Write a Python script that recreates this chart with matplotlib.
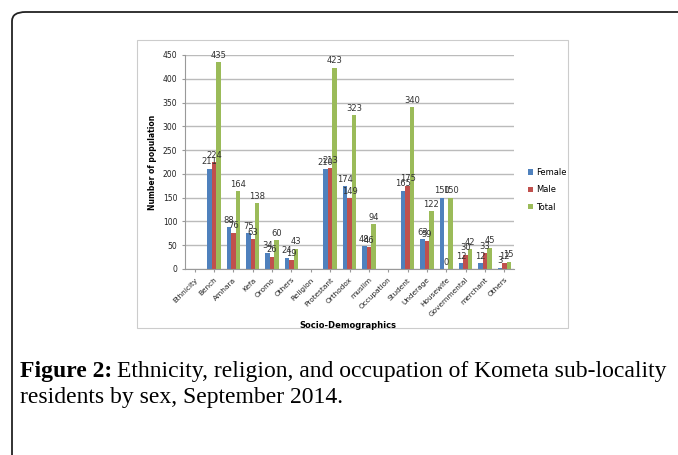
#!/usr/bin/env python3
# -*- coding: utf-8 -*-

import numpy as np
import matplotlib
matplotlib.use('Agg')
import matplotlib.pyplot as plt
from matplotlib.patches import FancyBboxPatch, Rectangle

nan = np.nan

categories = ['Ethnicity', 'Bench', 'Amhara', 'Kefa', 'Oromo', 'Others',
              'Religion', 'Protestant', 'Orthodox', 'muslim', 'Occupation',
              'Student', 'Underage', 'Housewife', 'Governmental', 'merchant',
              'Others']
female = [nan, 211, 88, 75, 34, 24, nan, 210, 174, 48, nan, 165, 63, 150, 12, 12, 3]
male = [nan, 224, 76, 63, 26, 19, nan, 213, 149, 46, nan, 175, 59, 0, 30, 33, 12]
total = [nan, 435, 164, 138, 60, 43, nan, 423, 323, 94, nan, 340, 122, 150, 42, 45, 15]

series = [('Female', female, '#4F81BD'),
          ('Male', male, '#C0504D'),
          ('Total', total, '#9BBB59')]

fig = plt.figure(figsize=(6.78, 4.55), dpi=100)
W, H = 678, 455


def box(x0, y0, x1, y1):
    # pixel box (top-left origin) -> figure fraction
    return [x0 / W, 1 - y1 / H, (x1 - x0) / W, (y1 - y0) / H]


# outer page frame with rounded corner
frame = FancyBboxPatch((12 / W, -0.2), 1.2, 1 - 12 / H + 0.2,
                       boxstyle='round,pad=0,rounding_size=0.02',
                       transform=fig.transFigure, fill=False,
                       edgecolor='#222222', linewidth=1.3)
fig.patches.append(frame)

# chart image box
fig.patches.append(Rectangle((137 / W, 1 - 328 / H), (568 - 137) / W, (328 - 40) / H,
                             transform=fig.transFigure, fill=False,
                             edgecolor='#CCCCCC', linewidth=0.8))

ax = fig.add_axes(box(185, 55, 514, 269))
x = np.arange(len(categories))
w = 0.23
for i, (name, vals, col) in enumerate(series):
    pos = x + (i - 1) * w
    bars = ax.bar(pos, vals, w, color=col, label=name, edgecolor='none')
    for p, v in zip(pos, vals):
        if np.isnan(v):
            continue
        ax.text(p, v + 5, '%d' % v, ha='center', va='bottom',
                fontsize=6, color='#333333')

ax.set_xlim(-0.5, len(categories) - 0.5)
ax.set_ylim(0, 450)
ax.set_yticks(range(0, 451, 50))
ax.yaxis.grid(True, color='#BBBBBB', linewidth=1)
ax.set_axisbelow(True)
for s in ['top', 'right']:
    ax.spines[s].set_visible(False)
ax.spines['left'].set_color('#999999')
ax.spines['bottom'].set_color('#999999')
ax.tick_params(axis='y', labelsize=5.5, length=2, colors='#999999', labelcolor='#222222')
ax.tick_params(axis='x', labelsize=5.3, length=2, colors='#999999', labelcolor='#222222')
ax.set_xticks(x)
ax.set_xticklabels(categories, rotation=45, ha='right', rotation_mode='anchor')
ax.set_ylabel('Number of population', fontsize=5.5, fontweight='bold')
fig.text(348 / W, 1 - 326 / H, 'Socio-Demographics', fontsize=6,
         fontweight='bold', ha='center', va='center')

ax.legend(loc='center left', bbox_to_anchor=(1.02, 0.37), frameon=False,
          fontsize=6, handlelength=0.6, handleheight=0.6, handletextpad=0.4,
          labelspacing=1.0)

# caption
fig.canvas.draw()
r = fig.canvas.get_renderer()
t1 = fig.text(20 / W, 1 - 372 / H, 'Figure 2:', fontsize=17, fontweight='bold',
              family='Liberation Serif', va='center')
bb = t1.get_window_extent(r)
fig.text(bb.x1 / W + 5 / W, 1 - 372 / H,
         'Ethnicity, religion, and occupation of Kometa sub-locality',
         fontsize=17, family='Liberation Serif', va='center')
fig.text(20 / W, 1 - 398 / H, 'residents by sex, September 2014.',
         fontsize=17, family='Liberation Serif', va='center')

fig.savefig('out.png', dpi=100)
